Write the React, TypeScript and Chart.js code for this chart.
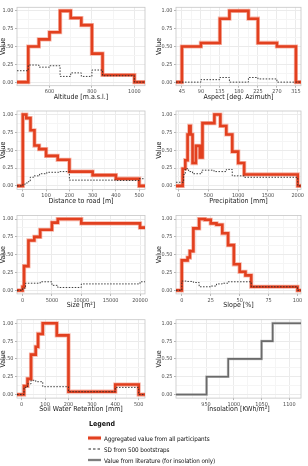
import React, { useEffect, useRef } from 'react';
import { Chart, registerables } from 'chart.js';

Chart.register(...registerables);

const FONT_FAMILY =
  "'Liberation Sans Narrow', 'DejaVu Sans Condensed', 'Roboto Condensed', 'Open Sans', sans-serif";

// ---------- Altitude ----------
const altitudeRange = [447, 1050];
const altitudeTicks = [600, 800, 1000];
const altitudeMinor = [500, 700, 900];
const altitudeAggX = [447, 500, 550, 600, 650, 700, 750, 800, 850, 1000, 1050];
const altitudeAggY = [0, 0.5, 0.6, 0.7, 1.0, 0.9, 0.8, 0.4, 0.1, 0, 0];
const altitudeSdX = [447, 500, 550, 600, 650, 700, 750, 800, 850, 1000, 1050];
const altitudeSdY = [0.16, 0.24, 0.21, 0.23, 0.08, 0.13, 0.08, 0.17, 0.09, 0, 0];

// ---------- Aspect ----------
const aspectRange = [31, 327];
const aspectTicks = [45, 90, 135, 180, 225, 270, 315];
const aspectMinor = [67.5, 112.5, 157.5, 202.5, 247.5, 292.5];
const aspectAggX = [31, 45, 90, 135, 157.5, 202.5, 225, 270, 315, 327];
const aspectAggY = [0, 0.5, 0.55, 0.89, 1.0, 0.89, 0.55, 0.5, 0, 0];
const aspectSdX = [31, 45, 90, 135, 157.5, 202.5, 225, 270, 315, 327];
const aspectSdY = [0, 0, 0.035, 0.065, 0, 0.065, 0.045, 0, 0, 0];

// ---------- Distance to road ----------
const distanceRange = [-25, 525];
const distanceTicks = [0, 100, 200, 300, 400, 500];
const distanceMinor = [50, 150, 250, 350, 450];
const distanceAggX = [-25, 0, 15, 33, 50, 70, 100, 150, 200, 300, 400, 500, 525];
const distanceAggY = [0, 1.0, 0.95, 0.78, 0.565, 0.515, 0.42, 0.365, 0.2, 0.15, 0.1, 0, 0];
const distanceSdX = [-25, 0, 10, 24, 32, 46, 72, 103, 154, 200, 400, 500, 525];
const distanceSdY = [0, 0.02, 0.04, 0.06, 0.12, 0.14, 0.17, 0.19, 0.2, 0.08, 0.075, 0.1, 0.1];

// ---------- Precipitation ----------
const precipRange = [-45, 2055];
const precipTicks = [0, 500, 1000, 1500, 2000];
const precipMinor = [250, 750, 1250, 1750];
const precipAggX = [-45, 67, 111, 150, 178, 200, 233, 289, 356, 400, 600, 700, 800, 900, 1000, 1100, 2000, 2055];
const precipAggY = [0, 0.24, 0.36, 0.72, 0.84, 0.72, 0.32, 0.56, 0.4, 0.88, 1.0, 0.84, 0.72, 0.48, 0.32, 0.16, 0, 0];
const precipSdX = [-45, 83, 111, 167, 233, 389, 594, 800, 900, 1100, 2000, 2055];
const precipSdY = [0.05, 0.16, 0.24, 0.2, 0.17, 0.22, 0.2, 0.23, 0.14, 0.12, 0, 0];

// ---------- Size ----------
const sizeRange = [-950, 20850];
const sizeTicks = [0, 5000, 10000, 15000, 20000];
const sizeMinor = [2500, 7500, 12500, 17500];
const sizeAggX = [-950, 0, 250, 1000, 2000, 3000, 5000, 6000, 10000, 20000, 20850];
const sizeAggY = [0, 0.05, 0.34, 0.7, 0.75, 0.85, 0.95, 1.0, 0.94, 0.88, 0.88];
const sizeSdX = [-950, 0, 500, 3000, 5000, 6000, 10000, 20000, 20850];
const sizeSdY = [0, 0.03, 0.1, 0.12, 0.07, 0.04, 0.09, 0.12, 0.12];

// ---------- Slope ----------
const slopeRange = [-5, 103];
const slopeTicks = [0, 25, 50, 75, 100];
const slopeMinor = [12.5, 37.5, 62.5, 87.5];
const slopeAggX = [-5, 0, 5, 7, 10, 15, 20, 25, 30, 35, 40, 45, 50, 55, 60, 100, 103];
const slopeAggY = [0, 0.42, 0.46, 0.55, 0.87, 1.0, 0.99, 0.94, 0.92, 0.8, 0.635, 0.365, 0.26, 0.21, 0.05, 0, 0];
const slopeSdX = [-5, 0, 5, 10, 15, 20, 25, 30, 35, 40, 60, 100, 103];
const slopeSdY = [0, 0.13, 0.125, 0.11, 0.05, 0.05, 0.06, 0.09, 0.1, 0.12, 0.05, 0, 0];

// ---------- Soil water retention ----------
const soilRange = [-20, 527];
const soilTicks = [0, 100, 200, 300, 400, 500];
const soilMinor = [50, 150, 250, 350, 450];
const soilAggX = [-20, 10, 25, 40, 60, 70, 90, 150, 200, 400, 500, 527];
const soilAggY = [0, 0.12, 0.22, 0.56, 0.67, 0.85, 1.0, 0.83, 0.04, 0.14, 0, 0];
const soilSdX = [-20, 10, 25, 40, 60, 90, 200, 400, 500, 527];
const soilSdY = [0, 0.1, 0.15, 0.2, 0.18, 0.11, 0.04, 0.1, 0, 0];

// ---------- Insolation (literature) ----------
const insolationRange = [896, 1121];
const insolationTicks = [950, 1000, 1050, 1100];
const insolationMinor = [925, 975, 1025, 1075];
const insolationLitX = [896, 951, 990, 1050, 1070, 1121];
const insolationLitY = [0, 0.25, 0.5, 0.75, 1.0, 1.0];

// ---------- Shared value axis ----------
const valueTicks = [0, 0.25, 0.5, 0.75, 1];
const valueMinor = [0.125, 0.375, 0.625, 0.875];

const RED = '#e2401f';
const RED_HALO = 'rgba(240, 120, 96, 0.55)';
const GREY = '#6a6a6a';
const GREY_HALO = 'rgba(160, 160, 160, 0.55)';

type Panel = {
  title: string;
  col: number;
  row: number;
  range: number[];
  ticks: number[];
  minor: number[];
  mainX: number[];
  mainY: number[];
  literature?: boolean;
  sdX?: number[];
  sdY?: number[];
};

const panels: Panel[] = [
  { title: 'Altitude [m.a.s.l.]', col: 0, row: 0, range: altitudeRange, ticks: altitudeTicks, minor: altitudeMinor, mainX: altitudeAggX, mainY: altitudeAggY, sdX: altitudeSdX, sdY: altitudeSdY },
  { title: 'Aspect [deg. Azimuth]', col: 1, row: 0, range: aspectRange, ticks: aspectTicks, minor: aspectMinor, mainX: aspectAggX, mainY: aspectAggY, sdX: aspectSdX, sdY: aspectSdY },
  { title: 'Distance to road [m]', col: 0, row: 1, range: distanceRange, ticks: distanceTicks, minor: distanceMinor, mainX: distanceAggX, mainY: distanceAggY, sdX: distanceSdX, sdY: distanceSdY },
  { title: 'Precipitation [mm]', col: 1, row: 1, range: precipRange, ticks: precipTicks, minor: precipMinor, mainX: precipAggX, mainY: precipAggY, sdX: precipSdX, sdY: precipSdY },
  { title: 'Size [m\u00b2]', col: 0, row: 2, range: sizeRange, ticks: sizeTicks, minor: sizeMinor, mainX: sizeAggX, mainY: sizeAggY, sdX: sizeSdX, sdY: sizeSdY },
  { title: 'Slope [%]', col: 1, row: 2, range: slopeRange, ticks: slopeTicks, minor: slopeMinor, mainX: slopeAggX, mainY: slopeAggY, sdX: slopeSdX, sdY: slopeSdY },
  { title: 'Soil Water Retention [mm]', col: 0, row: 3, range: soilRange, ticks: soilTicks, minor: soilMinor, mainX: soilAggX, mainY: soilAggY, sdX: soilSdX, sdY: soilSdY },
  { title: 'Insolation [KWh/m\u00b2]', col: 1, row: 3, range: insolationRange, ticks: insolationTicks, minor: insolationMinor, mainX: insolationLitX, mainY: insolationLitY, literature: true },
];

// Layout of the facet grid
const CANVAS_W = 154;
const CANVAS_H = 104;
const PLOT_H = 78.4;
const colLeft = [0, 154];
const colAxisW = [17, 22];
const colRightPad = [9, 7];
const rowTop = [0, 104, 208, 312];
const rowTopPad = [7.3, 7, 7.5, 7.7];

const pts = (xs: number[], ys: number[]) => xs.map((x, i) => ({ x, y: ys[i] }));

// Horizontal-then-vertical steps: each value holds until the next break.
const stepLine = (data: any[], color: string, width: number, dash: number[] = []) => ({
  data,
  borderColor: color,
  borderWidth: width,
  borderDash: dash,
  stepped: 'before',
  pointRadius: 0,
  fill: false,
  tension: 0,
  borderJoinStyle: 'miter',
  borderCapStyle: 'butt',
});

const panelFrame = {
  id: 'panelFrame',
  beforeDatasetsDraw(chart: any) {
    const { ctx, chartArea } = chart;
    ctx.save();
    ctx.strokeStyle = '#c6c6c6';
    ctx.lineWidth = 0.8;
    ctx.strokeRect(chartArea.left, chartArea.top, chartArea.right - chartArea.left, chartArea.bottom - chartArea.top);
    ctx.restore();
  },
};

function gridScale(major: number[], minor: number[], min: number, max: number, fmt: (v: number) => string) {
  const majorSet = new Set(major);
  return {
    type: 'linear',
    min,
    max,
    afterBuildTicks: (s: any) => {
      s.ticks = [...major, ...minor].sort((a, b) => a - b).map((v) => ({ value: v }));
    },
    ticks: {
      autoSkip: false,
      maxRotation: 0,
      minRotation: 0,
      color: '#4d4d4d',
      font: { family: FONT_FAMILY, size: 5.5 },
      callback: (v: number) => (majorSet.has(v) ? fmt(v) : ''),
    },
    grid: {
      lineWidth: 1,
      tickLength: 2,
      color: (ctx: any) => (majorSet.has(ctx.tick?.value) ? '#ebebeb' : '#f5f5f5'),
      tickColor: (ctx: any) => (majorSet.has(ctx.tick?.value) ? '#b3b3b3' : 'rgba(0,0,0,0)'),
    },
    border: { display: false },
  };
}

function buildConfig(p: Panel): any {
  const datasets: any[] = [];
  if (p.literature) {
    datasets.push(stepLine(pts(p.mainX, p.mainY), GREY, 1.6));
    datasets.push(stepLine(pts(p.mainX, p.mainY), GREY_HALO, 2.8));
  } else {
    if (p.sdX && p.sdY) datasets.push(stepLine(pts(p.sdX, p.sdY), '#2a2a2a', 0.9, [1.5, 1.5]));
    datasets.push(stepLine(pts(p.mainX, p.mainY), RED, 2.6));
    datasets.push(stepLine(pts(p.mainX, p.mainY), RED_HALO, 4.2));
  }
  const topPad = rowTopPad[p.row];
  const xAxisH = CANVAS_H - topPad - PLOT_H;
  const x: any = gridScale(p.ticks, p.minor, p.range[0], p.range[1], (v) => String(v));
  x.ticks.padding = 1;
  x.title = {
    display: true,
    text: p.title,
    color: '#1a1a1a',
    font: { family: FONT_FAMILY, size: 7, lineHeight: 1 },
    padding: { top: 0, bottom: 3 },
  };
  x.afterFit = (s: any) => {
    s.height = xAxisH;
  };
  const y: any = gridScale(valueTicks, valueMinor, -0.05, 1.05, (v) => v.toFixed(2));
  y.ticks.padding = 1.5;
  y.title = {
    display: true,
    text: 'Value',
    color: '#1a1a1a',
    font: { family: FONT_FAMILY, size: 7, lineHeight: 1 },
    padding: { top: p.col === 0 ? 0 : 1.5, bottom: 0 },
  };
  y.afterFit = (s: any) => {
    s.width = colAxisW[p.col];
  };
  return {
    type: 'line',
    data: { datasets },
    options: {
      animation: false,
      responsive: false,
      devicePixelRatio: 1,
      layout: { padding: { top: topPad, right: colRightPad[p.col], left: 0, bottom: 0 } },
      plugins: { legend: { display: false }, tooltip: { enabled: false } },
      scales: { x, y },
    },
    plugins: [panelFrame],
  };
}

function PanelChart({ panel }: { panel: Panel }) {
  const ref = useRef<HTMLCanvasElement | null>(null);
  useEffect(() => {
    if (!ref.current) return;
    const chart = new Chart(ref.current, buildConfig(panel));
    return () => chart.destroy();
  }, [panel]);
  return (
    <canvas
      ref={ref}
      width={CANVAS_W}
      height={CANVAS_H}
      style={{
        position: 'absolute',
        left: colLeft[panel.col],
        top: rowTop[panel.row],
        width: CANVAS_W,
        height: CANVAS_H,
      }}
    />
  );
}

const legendItems = [
  { label: 'Aggregated value from all participants', kind: 'agg' },
  { label: 'SD from 500 bootstraps', kind: 'sd' },
  { label: 'Value from literature (for insolation only)', kind: 'lit' },
];

function Swatch({ kind }: { kind: string }) {
  return (
    <svg width={13} height={6} style={{ display: 'block' }}>
      {kind === 'agg' && (
        <>
          <line x1={0} y1={3} x2={13} y2={3} stroke={RED_HALO} strokeWidth={4.2} />
          <line x1={0} y1={3} x2={13} y2={3} stroke={RED} strokeWidth={2.6} />
        </>
      )}
      {kind === 'sd' && (
        <line x1={0.5} y1={3} x2={13} y2={3} stroke="#2a2a2a" strokeWidth={1} strokeDasharray="2.5 2" />
      )}
      {kind === 'lit' && (
        <>
          <line x1={0} y1={3} x2={13} y2={3} stroke={GREY_HALO} strokeWidth={2.8} />
          <line x1={0} y1={3} x2={13} y2={3} stroke={GREY} strokeWidth={1.6} />
        </>
      )}
    </svg>
  );
}

export default function App() {
  return (
    <div
      style={{
        position: 'absolute',
        left: 0,
        top: 0,
        width: 308,
        height: 466,
        background: '#ffffff',
        overflow: 'hidden',
        fontFamily: FONT_FAMILY,
      }}
    >
      {panels.map((p) => (
        <PanelChart key={p.title} panel={p} />
      ))}
      <div
        style={{
          position: 'absolute',
          left: 89,
          top: 420,
          fontSize: 7,
          fontWeight: 'bold',
          color: '#111111',
          lineHeight: '9px',
          filter: 'grayscale(1)',
        }}
      >
        Legend
      </div>
      {legendItems.map((it, i) => (
        <div
          key={it.label}
          style={{
            position: 'absolute',
            left: 88,
            top: 433 + i * 11,
            height: 10,
            display: 'flex',
            alignItems: 'center',
            gap: 3,
            fontSize: 6.3,
            letterSpacing: '-0.1px',
            color: '#111111',
            whiteSpace: 'nowrap',
          }}
        >
          <Swatch kind={it.kind} />
          <span style={{ display: 'inline-block', filter: 'grayscale(1)' }}>{it.label}</span>
        </div>
      ))}
    </div>
  );
}
